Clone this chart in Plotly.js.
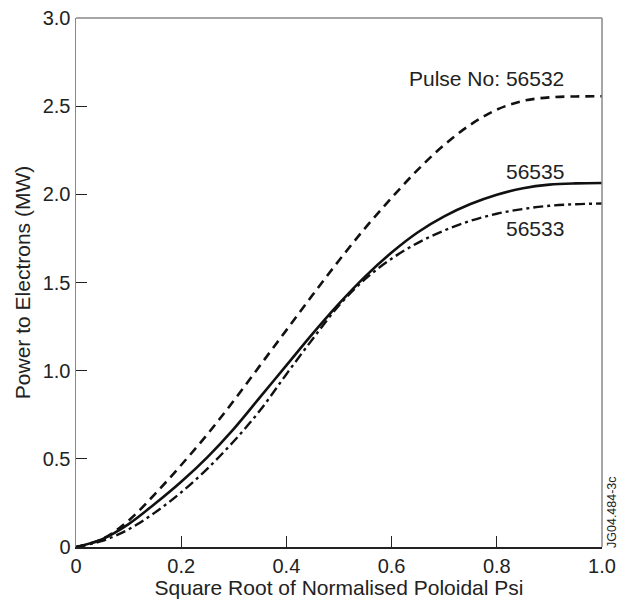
<!DOCTYPE html>
<html>
<head>
<meta charset="utf-8">
<script src="https://cdn.plot.ly/plotly-3.0.1.min.js"></script>
<style>html,body{margin:0;padding:0;background:#fff;}#chart{width:618px;height:601px;}</style>
</head>
<body>
<div id="chart"></div>
<script>
const psi = [0, 0.05, 0.1, 0.15, 0.2, 0.25, 0.3, 0.35, 0.4, 0.45, 0.5, 0.55, 0.6, 0.65, 0.7, 0.75, 0.8, 0.85, 0.9, 0.95, 1.0];
const pulse56532 = [0, 0.045, 0.15, 0.30, 0.465, 0.64, 0.83, 1.03, 1.23, 1.43, 1.625, 1.81, 1.98, 2.14, 2.28, 2.395, 2.48, 2.53, 2.55, 2.555, 2.556];
const pulse56535 = [0, 0.045, 0.13, 0.245, 0.37, 0.51, 0.67, 0.85, 1.03, 1.21, 1.38, 1.535, 1.67, 1.785, 1.875, 1.945, 1.998, 2.035, 2.055, 2.062, 2.064];
const pulse56533 = [0, 0.035, 0.10, 0.195, 0.31, 0.445, 0.60, 0.775, 0.98, 1.18, 1.37, 1.52, 1.635, 1.725, 1.795, 1.85, 1.89, 1.917, 1.935, 1.944, 1.948];
const xTickVals = [0, 0.2, 0.4, 0.6, 0.8, 1.0];
const xTickText = ["0", "0.2", "0.4", "0.6", "0.8", "1.0"];
const yTickVals = [0, 0.5, 1.0, 1.5, 2.0, 2.5, 3.0];
const yTickText = ["0", "0.5", "1.0", "1.5", "2.0", "2.5", "3.0"];

const font = "Liberation Sans, Arial, Helvetica, sans-serif";
const ink = "#222";

const traces = [
  {x: psi, y: pulse56532, mode: "lines", name: "56532",
   line: {color: "#111", width: 2.6, dash: "9px,6px", shape: "spline", smoothing: 1}},
  {x: psi, y: pulse56535, mode: "lines", name: "56535",
   line: {color: "#111", width: 2.6, shape: "spline", smoothing: 1}},
  {x: psi, y: pulse56533, mode: "lines", name: "56533",
   line: {color: "#111", width: 2.4, dash: "10px,4px,3px,4px", shape: "spline", smoothing: 1}}
];

const L = 76, R = 16, T = 18, B = 54, W = 618, H = 601;
const pw = W - L - R, ph = H - T - B;
const px = v => (v - L) / pw;
const py = v => (H - B - v) / ph;

const layout = {
  width: W, height: H,
  margin: {l: L, r: R, t: T, b: B},
  paper_bgcolor: "#fff", plot_bgcolor: "#fff",
  showlegend: false,
  font: {family: font, size: 20, color: ink},
  xaxis: {
    range: [0, 1.0], tickvals: xTickVals, ticktext: xTickText,
    ticks: "inside", ticklen: 11, tickwidth: 1.2, tickcolor: ink,
    showline: true, linecolor: ink, linewidth: 1.5, mirror: false,
    showgrid: false, zeroline: false,
    tickfont: {family: font, size: 20, color: ink},
    title: {text: "Square Root of Normalised Poloidal Psi", font: {family: font, size: 21, color: ink}, standoff: 0}
  },
  yaxis: {
    range: [0, 3.0], tickvals: yTickVals, ticktext: yTickText,
    ticks: "inside", ticklen: 11, tickwidth: 1.2, tickcolor: ink,
    showline: true, linecolor: "#888", linewidth: 1.5, mirror: false,
    showgrid: false, zeroline: false,
    tickfont: {family: font, size: 20, color: ink},
    title: {text: "Power to Electrons (MW)", font: {family: font, size: 21, color: ink}, standoff: 6}
  },
  shapes: [
    {type: "line", xref: "paper", yref: "paper", x0: 0, x1: 1, y0: 1, y1: 1, line: {color: "#888", width: 1.5}},
    {type: "line", xref: "paper", yref: "paper", x0: 1, x1: 1, y0: 0, y1: 1, line: {color: "#888", width: 1.5}}
  ],
  annotations: [
    {x: 0.78, y: 2.655, xref: "x", yref: "y", text: "Pulse No: 56532", showarrow: false,
     xanchor: "center", yanchor: "middle", font: {family: font, size: 21, color: ink}},
    {x: 0.873, y: 2.13, xref: "x", yref: "y", text: "56535", showarrow: false,
     xanchor: "center", yanchor: "middle", font: {family: font, size: 21, color: ink}},
    {x: 0.873, y: 1.805, xref: "x", yref: "y", text: "56533", showarrow: false,
     xanchor: "center", yanchor: "middle", font: {family: font, size: 21, color: ink}},
    {x: px(612), y: py(512), xref: "paper", yref: "paper", text: "JG04.484-3c", showarrow: false, textangle: -90,
     xanchor: "center", yanchor: "middle", font: {family: font, size: 12.5, color: ink}}
  ]
};

Plotly.newPlot("chart", traces, layout, {staticPlot: true, displayModeBar: false});
</script>
</body>
</html>
